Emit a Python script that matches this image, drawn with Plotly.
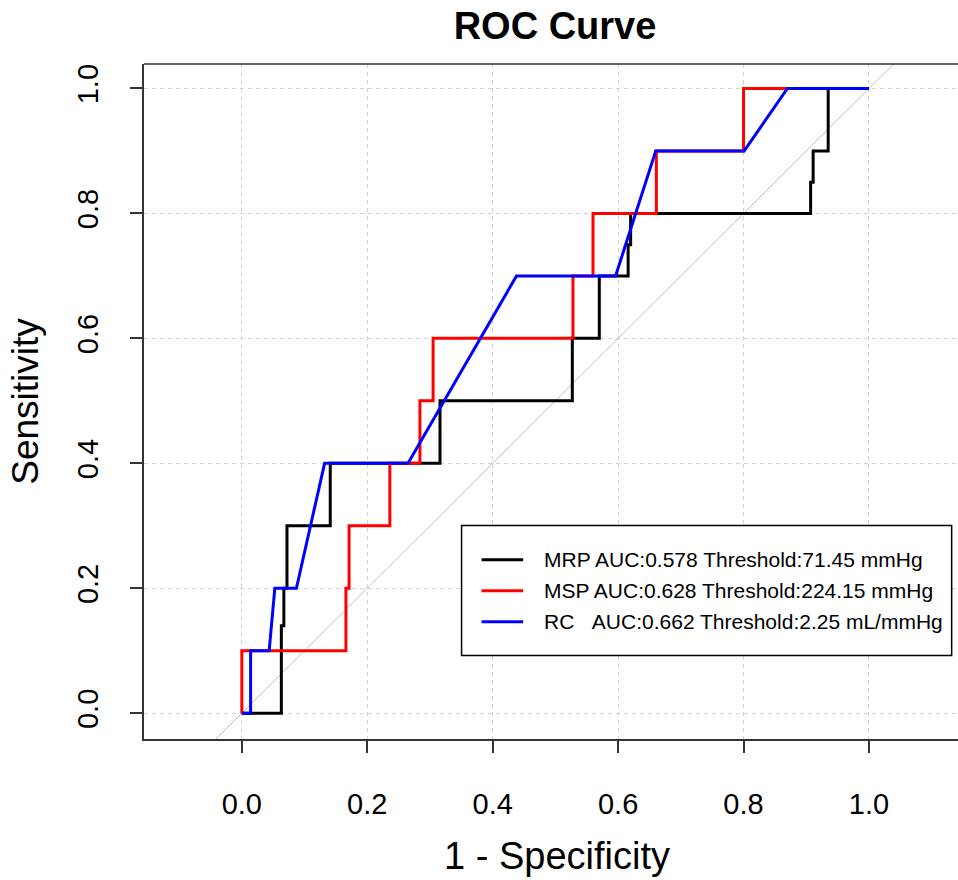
import plotly.graph_objects as go

# ---- data ----
mrp_fpr = [0, 0.063, 0.063, 0.067, 0.067, 0.072, 0.072, 0.141, 0.141, 0.316, 0.316,
           0.527, 0.527, 0.570, 0.570, 0.616, 0.616, 0.620, 0.620, 0.907, 0.907,
           0.911, 0.911, 0.935, 0.935, 1.0]
mrp_tpr = [0, 0, 0.14, 0.14, 0.2, 0.2, 0.3, 0.3, 0.4, 0.4, 0.5,
           0.5, 0.6, 0.6, 0.7, 0.7, 0.75, 0.75, 0.8, 0.8, 0.85,
           0.85, 0.9, 0.9, 1.0, 1.0]

msp_fpr = [0, 0, 0.166, 0.166, 0.171, 0.171, 0.236, 0.236, 0.284, 0.284, 0.305,
           0.305, 0.528, 0.528, 0.560, 0.560, 0.661, 0.661, 0.800, 0.800, 1.0]
msp_tpr = [0, 0.1, 0.1, 0.2, 0.2, 0.3, 0.3, 0.4, 0.4, 0.5, 0.5,
           0.6, 0.6, 0.7, 0.7, 0.8, 0.8, 0.9, 0.9, 1.0, 1.0]

rc_fpr = [0, 0.014, 0.014, 0.0436, 0.0526, 0.087, 0.132, 0.265, 0.438, 0.596,
          0.660, 0.801, 0.870, 1.0]
rc_tpr = [0, 0, 0.1, 0.1, 0.2, 0.2, 0.4, 0.4, 0.7, 0.7,
          0.9, 0.9, 1.0, 1.0]

diag_x = [-0.2, 1.2]
diag_y = [-0.2, 1.2]

tick_vals = [0.0, 0.2, 0.4, 0.6, 0.8, 1.0]
tick_text = ["0.0", "0.2", "0.4", "0.6", "0.8", "1.0"]

legend_labels = ["MRP AUC:0.578 Threshold:71.45 mmHg",
                 "MSP AUC:0.628 Threshold:224.15 mmHg",
                 "RC\u00a0\u00a0\u00a0AUC:0.662 Threshold:2.25 mL/mmHg"]
colors = ["#000000", "#FF0000", "#0000FF"]

FONT = "Liberation Sans, Arial, sans-serif"
W, H = 958, 880
ML, MT, MB, MR = 144, 64, 141, 0

fig = go.Figure()
fig.add_trace(go.Scatter(x=diag_x, y=diag_y, mode="lines",
                         line=dict(color="#BEBEBE", width=1), showlegend=False,
                         hoverinfo="skip"))
for fx, ty, c, name in [(mrp_fpr, mrp_tpr, colors[0], legend_labels[0]),
                        (msp_fpr, msp_tpr, colors[1], legend_labels[1]),
                        (rc_fpr, rc_tpr, colors[2], legend_labels[2])]:
    fig.add_trace(go.Scatter(x=fx, y=ty, mode="lines", name=name,
                             line=dict(color=c, width=3), showlegend=False))

# ---- manual legend (R style box) ----
lx0, lx1, ly0, ly1 = 0.3504, 1.1319, 0.0925, 0.3005
row_y = [0.2456, 0.1960, 0.1464]
fig.add_shape(type="rect", xref="x", yref="y", x0=lx0, x1=lx1, y0=ly0, y1=ly1,
              line=dict(color="#000000", width=1.5), fillcolor="white", layer="above")
for i in range(3):
    fig.add_shape(type="line", xref="x", yref="y", x0=0.3823, x1=0.4486,
                  y0=row_y[i], y1=row_y[i], line=dict(color=colors[i], width=3),
                  layer="above")
    fig.add_annotation(x=0.479, y=row_y[i], xref="x", yref="y", text=legend_labels[i],
                       showarrow=False, xanchor="left", yanchor="middle",
                       font=dict(family=FONT, size=21, color="#000000"))

# top border of the box
fig.add_shape(type="line", xref="paper", yref="paper", x0=0, x1=1, y0=1, y1=1,
              line=dict(color="#333333", width=1.5))

# x-axis title (centred on the full R plot region, which is cropped on the right)
fig.add_annotation(text="1 - Specificity", xref="paper", yref="paper",
                   x=(557 - ML) / (W - ML - MR), y=-(856 - (H - MB)) / (H - MT - MB),
                   xanchor="center", yanchor="middle", showarrow=False,
                   font=dict(family=FONT, size=38, color="#000000"))

fig.update_layout(
    width=W, height=H,
    margin=dict(l=ML, r=MR, t=MT, b=MB),
    paper_bgcolor="white", plot_bgcolor="white",
    font=dict(family=FONT, color="#000000"),
    title=dict(text="<b>ROC Curve</b>", x=555 / W, xanchor="center",
               y=1 - 26 / H, yanchor="middle", yref="container",
               font=dict(family=FONT, size=38, color="#000000")),
    xaxis=dict(range=[-0.156, 1.142], tickvals=tick_vals, ticktext=tick_text,
               showgrid=True, gridcolor="#D3D3D3", griddash="4px,4px", gridwidth=1,
               zeroline=False, showline=True, linecolor="#333333", linewidth=1.5,
               ticks="outside", ticklen=12, tickwidth=1.5, tickcolor="#333333",
               tickfont=dict(family=FONT, size=29), ticklabelstandoff=26),
    yaxis=dict(range=[-0.0413, 1.0392], tickvals=tick_vals, ticktext=tick_text,
               showgrid=True, gridcolor="#D3D3D3", griddash="4px,4px", gridwidth=1,
               zeroline=False, showline=True, linecolor="#333333", linewidth=1.5,
               ticks="outside", ticklen=12, tickwidth=1.5, tickcolor="#333333",
               tickangle=-90, tickfont=dict(family=FONT, size=29),
               ticklabelstandoff=21,
               title=dict(text="Sensitivity", standoff=22,
                          font=dict(family=FONT, size=37))),
)

fig.write_html("out.html", config={"displayModeBar": False},
               post_script="document.body.style.margin='0';")
